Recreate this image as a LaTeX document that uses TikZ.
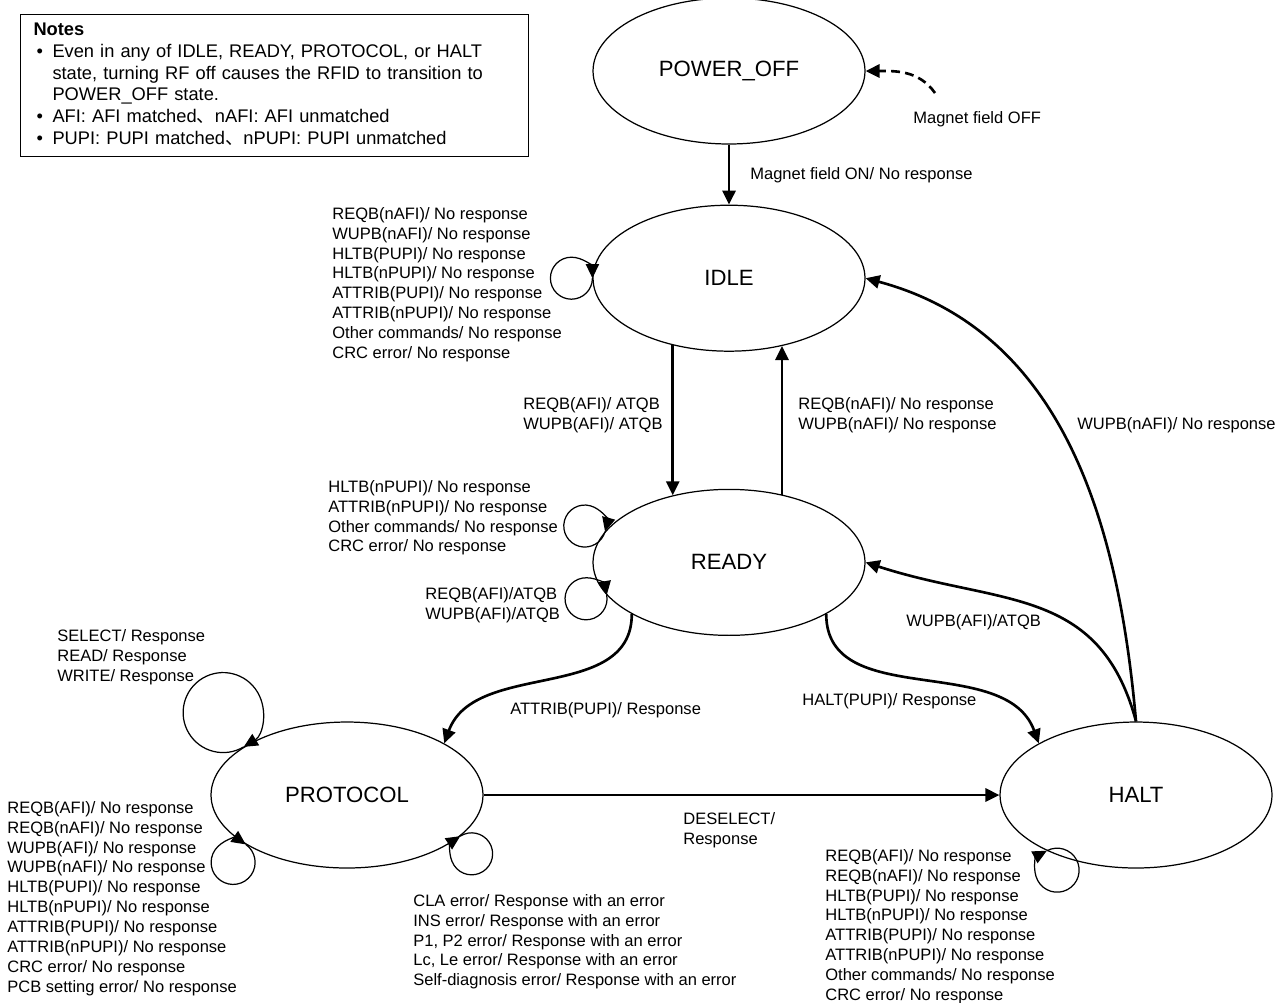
\documentclass[tikz,border=0pt]{standalone}
\usepackage{fontspec}
\setmainfont{Liberation Sans}
\newfontfamily\cjk{Noto Sans CJK JP}
\usetikzlibrary{arrows.meta, positioning, shapes.geometric}

\begin{document}
\begin{tikzpicture}[
    x=0.02cm, y=0.02cm,
    node distance=1.2cm,
    state/.style={ellipse, draw, line width=0.7pt, minimum width=5.44cm, minimum height=2.92cm, inner sep=0pt, font=\fontsize{12.6}{15}\selectfont},
    trans/.style={line width=1.5pt, -{Triangle[length=8pt, width=7.5pt]}},
    dashtrans/.style={trans, dash pattern=on 5pt off 3pt},
    selfloop/.style={line width=0.7pt, -{Triangle[length=8pt, width=7.5pt]}},
    lbl/.style={font=\fontsize{9.4}{11.3}\selectfont, inner sep=0pt, align=left, anchor=north west},
    notebox/.style={draw, line width=0.6pt, anchor=north west, inner xsep=0.26cm, inner ysep=0.104cm, text width=9.64cm, font=\fontsize{10.4}{12.5}\selectfont},
  ]
  \useasboundingbox (0,0) rectangle (1283,-1002);

  % states
  \node[state] (power) at (729,-71) {POWER\_OFF};
  \node[state] (idle) [below=of power] {IDLE};
  \node[state] (ready) [below=2.74cm of idle] {READY};
  \node[state] (protocol) at (347,-795) {PROTOCOL};
  \node[state] (halt) at (1136,-795) {HALT};

  % notes
  \node[notebox] (notes) at (20,-14) {\noindent
    \begin{tabular}{@{}p{0.38cm}@{}l@{}}
      \multicolumn{2}{@{}l@{}}{\bfseries Notes}\\
      \hspace*{0.06cm}• & Even in any of IDLE, READY, PROTOCOL, or HALT\\
      & state, turning RF off causes the RFID to transition to\\
      & POWER\_OFF state.\\
      \hspace*{0.06cm}• & AFI: AFI matched{\cjk 、}nAFI: AFI unmatched\\
      \hspace*{0.06cm}• & PUPI: PUPI matched{\cjk 、}nPUPI: PUPI unmatched
    \end{tabular}};

  % transitions
  \coordinate (offsrc) at (935,-93);
  \draw[dashtrans] (offsrc) to[out=125, in=0] (power.east);
  \draw[trans] (power) -- (idle);
  \draw[trans] (idle.230) -- (ready.130);
  \draw[trans] (ready.52) -- (idle.-52);
  \draw[trans] (halt.north) to[out=95, in=-15] (idle.east);
  \draw[trans] (halt.north) to[out=105, in=-18, looseness=1.15] (ready.east);
  \draw[trans] (ready.208) to[out=-90, in=70] (protocol.28);
  \draw[trans] (ready.-28) to[out=-90, in=110] (halt.152);
  \draw[trans] (protocol) -- (halt);

  % self loops
  \draw[selfloop] (idle.west) arc[start angle=0, delta angle=-360, radius=21];
  \draw[selfloop] (ready.166) arc[start angle=-15, delta angle=-360, radius=21];
  \draw[selfloop] (ready.195) arc[start angle=10, delta angle=-360, radius=21];
  \draw[selfloop] (protocol.155) arc[start angle=-59, delta angle=-360, radius=40];
  \draw[selfloop] (protocol.206) arc[start angle=55, delta angle=-360, radius=22];
  \draw[selfloop] (protocol.-20) arc[start angle=123, delta angle=-360, radius=21];
  \draw[selfloop] (halt.212) arc[start angle=118, delta angle=-360, radius=22];

  % labels
  \node[lbl] (offlbl) at (913,-111) {Magnet field OFF};
  \node[lbl] (onlbl) at (750,-167) {Magnet field ON/ No response};
  \node[lbl] (idlelbl) at (332,-207) {REQB(nAFI)/ No response\\WUPB(nAFI)/ No response\\HLTB(PUPI)/ No response\\HLTB(nPUPI)/ No response\\ATTRIB(PUPI)/ No response\\ATTRIB(nPUPI)/ No response\\Other commands/ No response\\CRC error/ No response};
  \node[lbl] (atqblbl) at (523,-397) {REQB(AFI)/ ATQB\\WUPB(AFI)/ ATQB};
  \node[lbl] (backlbl) at (798,-397) {REQB(nAFI)/ No response\\WUPB(nAFI)/ No response};
  \node[lbl] (wakelbl) at (1077,-417) {WUPB(nAFI)/ No response};
  \node[lbl] (readylbl) at (328,-480) {HLTB(nPUPI)/ No response\\ATTRIB(nPUPI)/ No response\\Other commands/ No response\\CRC error/ No response};
  \node[lbl] (readylbl2) at (425,-587) {REQB(AFI)/ATQB\\WUPB(AFI)/ATQB};
  \node[lbl] (rewakelbl) at (906,-614) {WUPB(AFI)/ATQB};
  \node[lbl] (haltlbl) at (802,-693) {HALT(PUPI)/ Response};
  \node[lbl] (attriblbl) at (510,-702) {ATTRIB(PUPI)/ Response};
  \node[lbl] (protolbl) at (57,-629) {SELECT/ Response\\READ/ Response\\WRITE/ Response};
  \node[lbl] (protolbl2) at (7,-801) {REQB(AFI)/ No response\\REQB(nAFI)/ No response\\WUPB(AFI)/ No response\\WUPB(nAFI)/ No response\\HLTB(PUPI)/ No response\\HLTB(nPUPI)/ No response\\ATTRIB(PUPI)/ No response\\ATTRIB(nPUPI)/ No response\\CRC error/ No response\\PCB setting error/ No response};
  \node[lbl] (protolbl3) at (413,-894) {CLA error/ Response with an error\\INS error/ Response with an error\\P1, P2 error/ Response with an error\\Lc, Le error/ Response with an error\\Self-diagnosis error/ Response with an error};
  \node[lbl] (deselbl) at (683,-812) {DESELECT/\\Response};
  \node[lbl] (haltlooplbl) at (825,-849) {REQB(AFI)/ No response\\REQB(nAFI)/ No response\\HLTB(PUPI)/ No response\\HLTB(nPUPI)/ No response\\ATTRIB(PUPI)/ No response\\ATTRIB(nPUPI)/ No response\\Other commands/ No response\\CRC error/ No response};
\end{tikzpicture}
\end{document}
